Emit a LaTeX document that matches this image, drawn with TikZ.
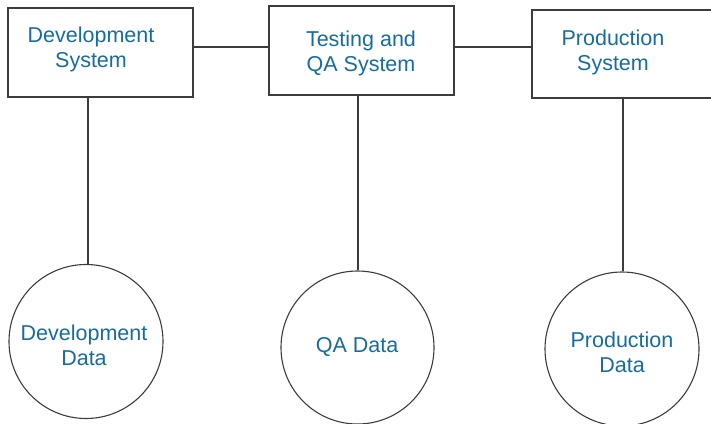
\documentclass[tikz,border=0pt]{standalone}
\usepackage{fontspec}
\setmainfont{Liberation Sans}
\definecolor{txtblue}{RGB}{22,108,160}
\definecolor{linegray}{RGB}{60,60,60}
\begin{document}
\begin{tikzpicture}[x=1pt,y=-1pt,
  sysbox/.style={draw=linegray,line width=1.1pt,rectangle,inner sep=0pt,minimum width=185pt,minimum height=89pt},
  datacirc/.style={draw=linegray,line width=1.1pt,circle,inner sep=0pt,minimum size=154pt},
  lbl/.style={text=txtblue,font=\fontsize{21.5}{24.5}\selectfont,align=center,inner sep=0pt,anchor=base},
  conn/.style={draw=linegray,line width=1.1pt}]
\useasboundingbox (0,0) rectangle (711,423);
% boxes
\node[sysbox] (dev) at (100.5,52.5) {};
\node[sysbox] (qa) at (361.5,50.5) {};
\node[sysbox,minimum height=88pt] (prod) at (624.5,54) {};
% circles
\node[datacirc] (devdata) at (86,341.5) {};
\node[datacirc,minimum size=153pt] (qadata) at (357.5,347.5) {};
\node[datacirc] (proddata) at (622,349) {};
% labels (anchored at the baseline of the last line)
\node[lbl] (devt) at (91,67) {Development\\System};
\node[lbl] (qat) at (361,71) {Testing and\\QA System};
\node[lbl] (prodt) at (613,70) {Production\\System};
\node[lbl] (devdt) at (84,365) {Development\\Data};
\node[lbl] (qadt) at (357,352) {QA Data};
\node[lbl] (proddt) at (622,372) {Production\\Data};
% connectors
\coordinate (h) at (0,47);
\draw[conn] (dev.east |- h) -- (qa.west |- h);
\draw[conn] (qa.east |- h) -- (prod.west |- h);
\coordinate (v1) at (88,0);
\coordinate (v2) at (358,0);
\coordinate (v3) at (623,0);
\draw[conn] (dev.south -| v1) -- (devdata.north -| v1);
\draw[conn] (qa.south -| v2) -- (qadata.north -| v2);
\draw[conn] (prod.south -| v3) -- (proddata.north -| v3);
\end{tikzpicture}
\end{document}
